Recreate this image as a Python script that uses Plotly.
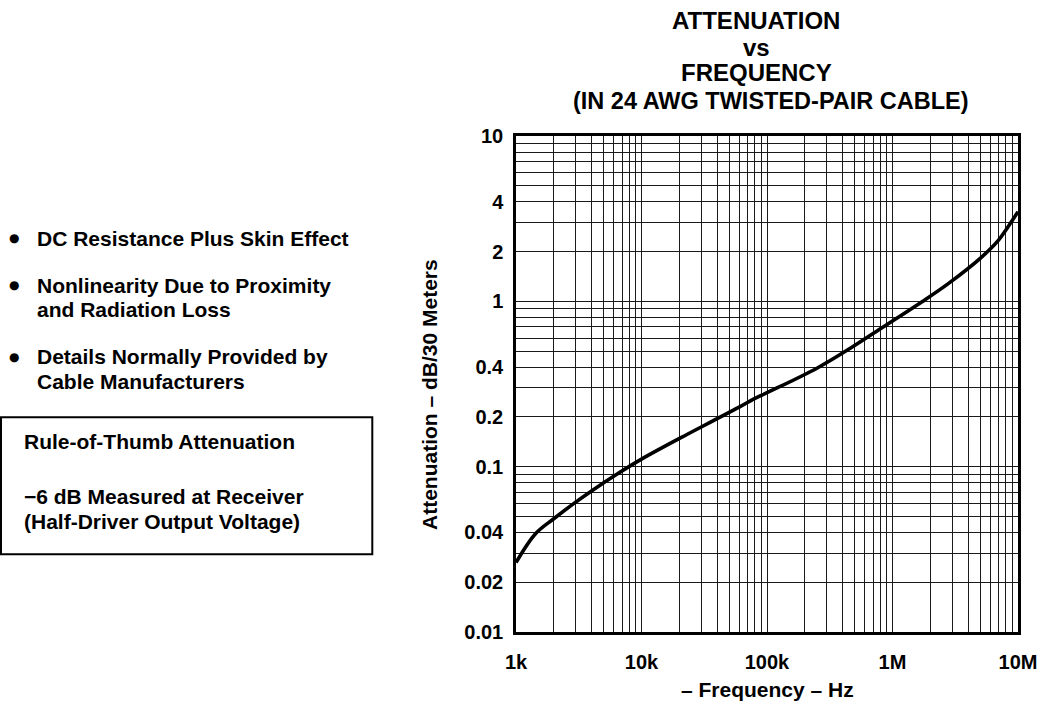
import plotly.graph_objects as go

# ---- data ----
freq_hz = [1e3, 1.43e3, 2e3, 2.88e3, 3.92e3, 6.4e3, 1e4, 2.32e4, 3.55e4, 6e4, 7.8e4, 1e5,
           2.5e5, 4.61e5, 8.49e5, 1.72e6, 2.8e6, 5e6, 7e6, 8.17e6, 1e7]
atten_db = [0.0263, 0.0393, 0.0484, 0.0598, 0.0706, 0.0902, 0.111, 0.157, 0.186, 0.229,
            0.256, 0.28, 0.394, 0.52, 0.702, 0.995, 1.285, 1.82, 2.345, 2.76, 3.48]

x_tickvals = [1e3, 1e4, 1e5, 1e6, 1e7]
x_ticktext = ["1k", "10k", "100k", "1M", "10M"]
y_tickvals = [0.01, 0.02, 0.04, 0.1, 0.2, 0.4, 1, 2, 4, 10]
y_ticktext = ["0.01", "0.02", "0.04", "0.1", "0.2", "0.4", "1", "2", "4", "10"]

title_lines = ["ATTENUATION", "vs", "FREQUENCY", "(IN 24 AWG TWISTED-PAIR CABLE)"]
bullet_items = [["DC Resistance Plus Skin Effect"],
                ["Nonlinearity Due to Proximity", "and Radiation Loss"],
                ["Details Normally Provided by", "Cable Manufacturers"]]
box_lines = ["Rule-of-Thumb Attenuation", "\u22126 dB Measured at Receiver",
             "(Half-Driver Output Voltage)"]
x_title = "\u2013 Frequency \u2013 Hz"
y_title = "Attenuation \u2013 dB/30 Meters"

# minor grid values (2..9 within each decade)
x_minor = [m * 10 ** d for d in range(3, 7) for m in range(2, 10)]
y_minor = [round(m * 10 ** d, 6) for d in range(-2, 1) for m in range(2, 10)]

W, H = 1040, 702
L, R, T, B = 516, 22, 136, 70
PW, PH = W - L - R, H - T - B


def px(x):
    return (x - L) / PW


def py(y):
    return (H - B - y) / PH


FONT = "Liberation Sans, Arial, Helvetica, sans-serif"
GRID = "#1a1a1a"

fig = go.Figure()
fig.add_trace(go.Scatter(x=freq_hz, y=atten_db, mode="lines",
                         line=dict(color="black", width=3.6, shape="spline", smoothing=1.0),
                         hoverinfo="x+y", showlegend=False))

axis_common = dict(type="log", showline=True, mirror=True, linecolor="black", linewidth=2.5,
                   showgrid=True, gridcolor=GRID, gridwidth=1, zeroline=False, ticks="",
                   automargin=False,
                   tickfont=dict(family=FONT, size=20, color="black", weight="bold"))

fig.update_xaxes(range=[3, 7], tickvals=x_tickvals, ticktext=x_ticktext,
                 ticklabelstandoff=10,
                 minor=dict(tickvals=x_minor, showgrid=True, gridcolor=GRID, gridwidth=1, ticks=""),
                 **axis_common)
fig.update_yaxes(range=[-2, 1], tickvals=y_tickvals, ticktext=y_ticktext,
                 ticklabelstandoff=6,
                 minor=dict(tickvals=y_minor, showgrid=True, gridcolor=GRID, gridwidth=1, ticks=""),
                 **axis_common)

ann = []
bold = dict(family=FONT, size=21, color="black", weight="bold")

# title lines
title_pos = [(756, 21), (756, 47), (756, 72.5), (771, 101.5)]
title_sizes = [24, 24, 24, 23.5]
for txt, (x, y), sz in zip(title_lines, title_pos, title_sizes):
    ann.append(dict(text=txt, x=px(x), y=py(y), xref="paper", yref="paper",
                    xanchor="center", yanchor="middle", showarrow=False,
                    font=dict(family=FONT, size=sz, color="black", weight="bold")))

# axis titles
ann.append(dict(text=x_title, x=px(767), y=py(689), xref="paper", yref="paper",
                xanchor="center", yanchor="middle", showarrow=False, font=bold))
ann.append(dict(text=y_title, x=px(429), y=py(395), xref="paper", yref="paper",
                xanchor="center", yanchor="middle", textangle=-90, showarrow=False, font=bold))

# bullets
bullet_y = [[238.3], [285, 309.3], [356.7, 381]]
for lines, ys in zip(bullet_items, bullet_y):
    ann.append(dict(text="\u25cf", x=px(13.5), y=py(ys[0]), xref="paper", yref="paper",
                    xanchor="center", yanchor="middle", showarrow=False,
                    font=dict(family="DejaVu Sans", size=12, color="black")))
    for txt, y in zip(lines, ys):
        ann.append(dict(text=txt, x=px(35), y=py(y), xref="paper", yref="paper",
                        xanchor="left", yanchor="middle", showarrow=False, font=bold))

# box text
box_y = [441.7, 496, 521]
for txt, y in zip(box_lines, box_y):
    ann.append(dict(text=txt, x=px(21.7), y=py(y), xref="paper", yref="paper",
                    xanchor="left", yanchor="middle", showarrow=False, font=bold))

fig.add_shape(type="rect", xref="paper", yref="paper",
              x0=px(1), x1=px(372.3), y0=py(554.3), y1=py(417.3),
              line=dict(color="black", width=2))

fig.update_layout(width=W, height=H, margin=dict(l=L, r=R, t=T, b=B, autoexpand=False),
                  paper_bgcolor="white", plot_bgcolor="white",
                  annotations=ann, showlegend=False)

fig.write_html("out.html", config={"displayModeBar": False},
               post_script="document.body.style.margin='0';document.body.style.padding='0';")
